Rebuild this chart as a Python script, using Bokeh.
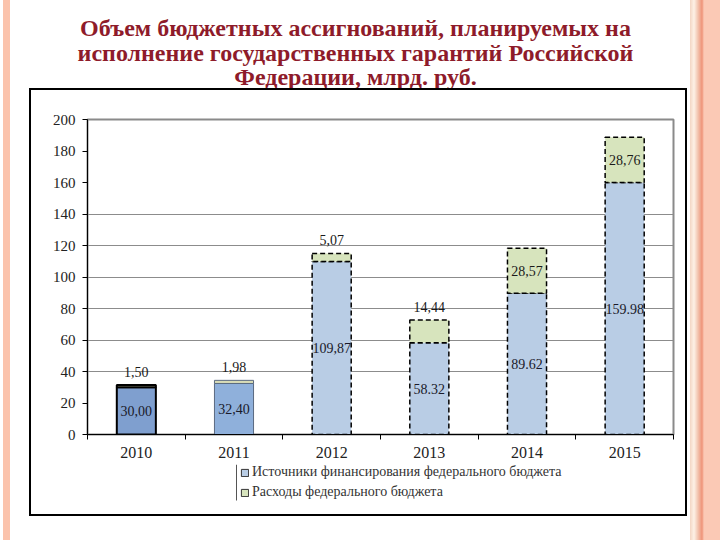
from bokeh.plotting import figure
from bokeh.models import (Range1d, FixedTicker, Label, Legend, LegendItem,
                          ColumnDataSource, LinearAxis, Spacer)
from bokeh.layouts import column, row
from bokeh.core.properties import value
from bokeh.embed import file_html
from bokeh.resources import INLINE

# ---- data ----
years = ["2010", "2011", "2012", "2013", "2014", "2015"]
sources = [30.00, 32.40, 109.87, 58.32, 89.62, 159.98]
expenses = [1.50, 1.98, 5.07, 14.44, 28.57, 28.76]
source_labels = ["30,00", "32,40", "109,87", "58.32", "89.62", "159.98"]
expense_labels = ["1,50", "1,98", "5,07", "14,44", "28,57", "28,76"]
expense_label_pos = ["above", "above", "above", "above", "inside", "inside"]
y_ticks = [0, 20, 40, 60, 80, 100, 120, 140, 160, 180, 200]
grid_ticks = [40, 60, 80, 100, 120, 140]
title_lines = ["Объем бюджетных ассигнований, планируемых на",
               "исполнение государственных гарантий Российской",
               "Федерации, млрд. руб."]
legend_names = ["Источники финансирования федерального бюджета",
                "Расходы федерального бюджета"]

SERIF = "'Liberation Serif', serif"
BLUE_2010 = "#7f9fcf"
BLUE_2011 = "#8fb0db"
BLUE_LIGHT = "#b9cde5"
GREEN = "#d7e4bd"
TOP_OLD = "#d8dcb6"

xs = [i + 0.5 for i in range(len(years))]

def bare(fig):
    fig.outline_line_color = None
    fig.xgrid.visible = False
    fig.ygrid.visible = False
    fig.background_fill_color = "white"
    fig.border_fill_color = "white"

# ---- title figure ----
tf = figure(width=680, height=88, output_backend="svg", toolbar_location=None,
            x_range=Range1d(0, 680), y_range=Range1d(0, 88),
            min_border=0, x_axis_location=None, y_axis_location=None)
bare(tf)
for line, yy in zip(title_lines, [61, 36, 12]):
    tf.add_layout(Label(x=345, y=yy, text=line, text_align="center",
                        text_baseline="middle", text_font=SERIF, text_font_size="24px",
                        text_font_style="bold", text_color="#8e1b2a"))

# ---- chart figure ----
p = figure(width=654, height=374, output_backend="svg", toolbar_location=None,
           x_range=Range1d(0, 6), y_range=Range1d(0, 200),
           min_border_left=56, min_border_right=12, min_border_top=29,
           min_border_bottom=30, x_axis_location=None, y_axis_location=None)
p.background_fill_color = "white"
p.border_fill_color = "white"
p.outline_line_color = "#8a8a8a"
p.outline_line_width = 2

p.xgrid.visible = False
p.ygrid.ticker = FixedTicker(ticks=grid_ticks)
p.ygrid.grid_line_color = "#8c8c8c"
p.ygrid.grid_line_width = 1

yax = LinearAxis(ticker=FixedTicker(ticks=y_ticks))
yax.axis_line_color = "black"
yax.major_tick_out = 5
yax.major_tick_in = 0
yax.minor_tick_line_color = None
yax.major_label_text_font = SERIF
yax.major_label_text_font_size = "15px"
yax.major_label_text_color = "#222222"
yax.major_label_standoff = 7
p.add_layout(yax, "left")

xax = LinearAxis(ticker=FixedTicker(ticks=xs, minor_ticks=list(range(len(years) + 1))))
xax.major_label_overrides = {x: y for x, y in zip(xs, years)}
xax.axis_line_color = "black"
xax.major_tick_line_color = None
xax.minor_tick_out = 5
xax.minor_tick_in = 0
xax.minor_tick_line_color = "black"
xax.major_label_text_font = SERIF
xax.major_label_text_font_size = "16px"
xax.major_label_text_color = "#222222"
xax.major_label_standoff = 6
p.add_layout(xax, "below")

def group(idx):
    return ColumnDataSource(dict(
        x=[xs[i] for i in idx],
        src=[sources[i] for i in idx],
        tot=[sources[i] + expenses[i] for i in idx]))

g2010 = group([0])
g2011 = group([1])
gplan = group([2, 3, 4, 5])

W = 0.4
p.vbar(x="x", bottom=0, top="src", width=W, source=g2010, fill_color=BLUE_2010,
       line_color="black", line_width=2)
p.vbar(x="x", bottom="src", top="tot", width=W, source=g2010, fill_color=TOP_OLD,
       line_color="black", line_width=2)
p.vbar(x="x", bottom=0, top="src", width=W, source=g2011, fill_color=BLUE_2011,
       line_color="#5a6a80", line_width=1)
p.vbar(x="x", bottom="src", top="tot", width=W, source=g2011, fill_color=TOP_OLD,
       line_color="#5a6a80", line_width=1)
p.vbar(x="x", bottom=0, top="src", width=W, source=gplan, fill_color=BLUE_LIGHT,
       line_color="black", line_width=1.5, line_dash="5 3")
p.vbar(x="x", bottom="src", top="tot", width=W, source=gplan, fill_color=GREEN,
       line_color="black", line_width=1.5, line_dash="5 3")

lab = ColumnDataSource(dict(x=xs, y=[s / 2 for s in sources], t=source_labels))
p.text(x="x", y="y", text="t", source=lab, text_align="center", text_baseline="middle",
       text_font=value(SERIF), text_font_size="14px", text_color="#1a1a2a")

ey, eoff = [], []
for s, e, pos in zip(sources, expenses, expense_label_pos):
    if pos == "inside":
        ey.append(s + e / 2)
        eoff.append(0)
    else:
        ey.append(s + e)
        eoff.append(-13)
elab = ColumnDataSource(dict(x=xs, y=ey, off=eoff, t=expense_labels))
p.text(x="x", y="y", y_offset="off", text="t", source=elab, text_align="center",
       text_baseline="middle", text_font=value(SERIF), text_font_size="14px",
       text_color="#1a1a1a")

# ---- legend figure (below the x axis, inside the box) ----
lf = figure(width=654, height=50, output_backend="svg", toolbar_location=None,
            x_range=Range1d(0, 586), y_range=Range1d(0, 50),
            min_border_left=56, min_border_right=12, min_border_top=0,
            min_border_bottom=0, x_axis_location=None, y_axis_location=None)
bare(lf)
lf.segment(x0=[149], y0=[14], x1=[149], y1=[50], line_color="#555555", line_width=1)
# legend swatches: one swatch each, kept outside the visible range
d1 = lf.vbar(x=[-50], bottom=[-50], top=[-40], width=1, fill_color=BLUE_LIGHT,
             line_color="#333333", line_width=1)
d2 = lf.vbar(x=[-50], bottom=[-50], top=[-40], width=1, fill_color=GREEN,
             line_color="#333333", line_width=1)
legend = Legend(items=[LegendItem(label=legend_names[0], renderers=[d1]),
                       LegendItem(label=legend_names[1], renderers=[d2])],
                location=(153, 14), orientation="vertical")
legend.glyph_width = 9
legend.glyph_height = 9
legend.label_height = 12
legend.spacing = 4
legend.padding = 0
legend.margin = 0
legend.label_standoff = 3
legend.border_line_color = None
legend.background_fill_alpha = 0
legend.label_text_font = SERIF
legend.label_text_font_size = "14px"
legend.label_text_color = "#333333"
lf.add_layout(legend, "center")

# ---- black box around the chart, built from spacers ----
def block(w, h, bg):
    return Spacer(width=w, height=h, styles={"background": bg})

boxed = row(Spacer(width=19, height=428),
            block(2, 428, "black"),
            column(block(654, 2, "black"), p, lf, block(654, 2, "black")),
            block(2, 428, "black"))

left_stripe = row(Spacer(width=3, height=540), block(7, 540, "#fbc3ac"))
right_stripe = block(30, 540, "linear-gradient(to right, #f3d6c4 0px, #fdf1e6 4px, "
                              "#f2c3ae 8px, #ef9378 12px, #fbc9b5 14px, #fbc9b5 30px)")

layout = row(left_stripe, column(tf, boxed), right_stripe)
open("out.html", "w").write(file_html(layout, INLINE))
